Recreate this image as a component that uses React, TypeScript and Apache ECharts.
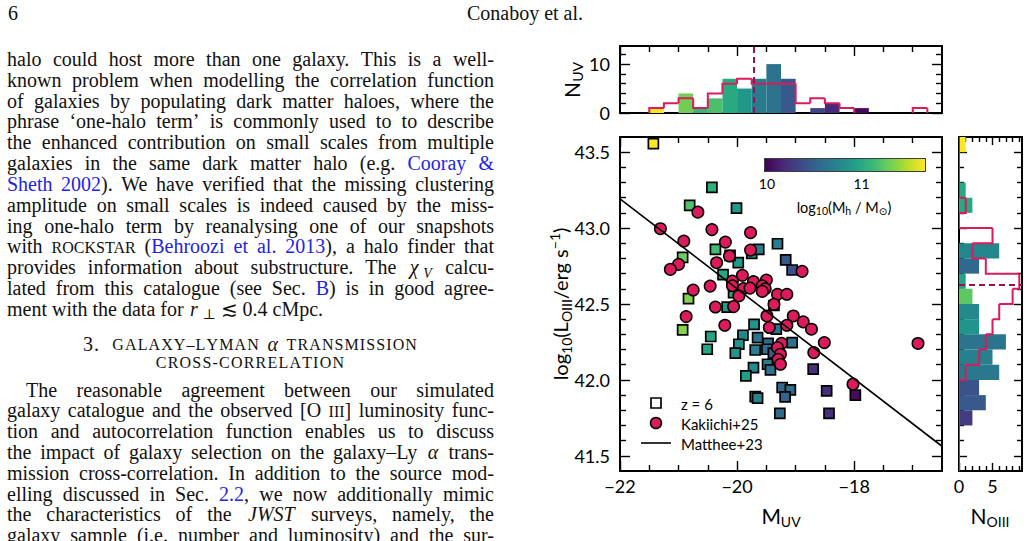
import React, { useEffect, useRef } from "react";
import * as echarts from "echarts";

// ---------------- data ----------------
// simulated z = 6 galaxies (squares): M_UV, log L_OIII, log halo mass
const simMuv = [-21.43, -20.43, -20.81, -20.01, -20.37, -19.75, -19.63, -19.31, -20.93, -19.98, -20.12, -20.24, -20.83, -20.06, -19.17, -19.06, -19.37, -20.17, -19.71, -19.33, -20.45, -19.9, -19.65, -19.97, -19.47, -19.06, -20.51, -20.03, -19.69, -19.49, -19.38, -19.48, -19.43, -19.72, -19.85, -18.7, -17.98, -19.23, -19.09, -19.18, -18.47, -19.69, -19.65, -19.27, -18.43, -20.93];
const simLogL = [43.557, 43.268, 43.149, 43.132, 42.86, 42.834, 42.86, 42.897, 42.807, 42.772, 42.82, 42.693, 42.535, 42.575, 42.79, 42.724, 42.49, 42.48, 42.366, 42.334, 42.286, 42.294, 42.279, 42.235, 42.241, 42.246, 42.202, 42.176, 42.197, 42.202, 42.176, 42.103, 42.066, 42.081, 42.026, 42.071, 41.9, 41.95, 41.934, 41.888, 41.928, 41.89, 41.88, 41.78, 41.779, 42.329];
const simLogMh = [11.68, 11.05, 11.2, 10.9, 11.15, 10.92, 10.7, 10.68, 11.3, 10.9, 10.65, 10.98, 11.35, 11.0, 10.45, 10.4, 10.55, 10.92, 10.85, 10.62, 10.97, 10.78, 10.62, 10.85, 10.55, 10.6, 10.98, 10.85, 10.7, 10.6, 10.45, 10.68, 10.62, 10.78, 10.92, 10.22, 10.03, 10.55, 10.58, 10.52, 10.2, 10.75, 10.75, 10.58, 10.2, 11.35];

// Kakiichi+25 (circles)
const kakMuv = [-20.67, -21.31, -20.43, -20.91, -20.2, -19.77, -19.77, -20.13, -20.35, -21.0, -21.14, -19.91, -20.08, -19.72, -19.5, -20.46, -20.08, -19.89, -19.78, -19.57, -19.52, -19.57, -20.75, -19.97, -19.31, -19.15, -20.37, -20.06, -19.37, -20.87, -19.49, -19.04, -18.87, -18.73, -20.21, -19.45, -19.15, -19.24, -18.51, -16.91, -19.31, -18.69, -19.26, -19.3, -19.26, -18.02, -18.89];
const kakLogL = [43.105, 42.996, 42.99, 42.914, 42.908, 42.97, 42.855, 42.816, 42.772, 42.761, 42.728, 42.689, 42.651, 42.647, 42.658, 42.618, 42.62, 42.601, 42.605, 42.62, 42.6, 42.583, 42.592, 42.553, 42.564, 42.564, 42.48, 42.483, 42.498, 42.417, 42.421, 42.421, 42.382, 42.334, 42.36, 42.345, 42.36, 42.241, 42.246, 42.24, 42.213, 42.18, 42.169, 42.136, 42.103, 41.972, 42.715];

// Matthee+23 relation (end points)
const mattheeMuv = [-22, -16.5];
const mattheeLogL = [43.193, 41.563];

// M_UV histogram
const uvBinEdges = [-22, -21.75, -21.5, -21.25, -21, -20.75, -20.5, -20.25, -20, -19.75, -19.5, -19.25, -19, -18.75, -18.5, -18.25, -18, -17.75, -17.5, -17.25, -17, -16.75, -16.5];
const uvSimCounts = [0, 0, 1, 0, 4, 1, 3, 7, 5, 7, 10, 7, 0, 1, 2, 0, 1, 0, 0, 0, 0, 0];
const uvSimMeanMh = [0, 0, 11.68, 0, 11.3, 11.1, 11.18, 11.0, 10.87, 10.68, 10.62, 10.45, 0, 10.32, 10.18, 0, 10.02, 0, 0, 0, 0, 0];
const uvKakCounts = [0, 0, 1, 2, 3, 1, 4, 6, 7, 6, 6, 6, 2, 3, 2, 1, 0, 0, 0, 0, 1, 0];
const kakMedianMuv = -19.71;

// L_OIII histogram
const oiiiBinEdges = [41.4, 41.5, 41.6, 41.7, 41.8, 41.9, 42.0, 42.1, 42.2, 42.3, 42.4, 42.5, 42.6, 42.7, 42.8, 42.9, 43.0, 43.1, 43.2, 43.3, 43.4, 43.5, 43.6];
const oiiiSimCounts = [0, 0, 0, 2, 4, 3, 6, 5, 7, 3, 3, 2, 1, 3, 6, 0, 0, 2, 1, 0, 0, 1];
const oiiiSimMeanMh = [0, 0, 0, 10.28, 10.45, 10.42, 10.66, 10.72, 10.63, 10.86, 10.78, 11.24, 10.95, 10.55, 10.75, 0, 0, 11.0, 11.0, 0, 0, 11.68];
const oiiiKakCounts = [0, 0, 0, 0, 0, 0, 1, 3, 4, 5, 6, 8, 9, 4, 2, 5, 0, 1, 0, 0, 0, 0];
const kakMedianLogL = 42.627;

// axis ticks
const muvMajor = [-22, -20, -18];
const muvMinor = [-21.5, -21, -20.5, -19.5, -19, -18.5, -17.5, -17];
const lMajor = [41.5, 42, 42.5, 43, 43.5];
const lMinor = [41.6, 41.7, 41.8, 41.9, 42.1, 42.2, 42.3, 42.4, 42.6, 42.7, 42.8, 42.9, 43.1, 43.2, 43.3, 43.4];
const nuvMajor = [0, 10];
const nuvMinor = [2, 4, 6, 8, 12];
const noiiiMajor = [0, 5];
const noiiiMinor = [1, 2, 3, 4, 6, 7, 8, 9];
const cbMajor = [10, 11];
const cbMinor = [10.2, 10.4, 10.6, 10.8, 11.2, 11.4, 11.6];

// ranges
const MUV_MIN = -22, MUV_MAX = -16.5;
const L_MIN = 41.4, L_MAX = 43.6;
const NUV_MAX = 13.7, NOIII_MAX = 9.4;
const CB_MIN = 9.98, CB_MAX = 11.67;

// ---------------- page text ----------------
const para1 = [
  "halo could host more than one galaxy. This is a well-",
  "known problem when modelling the correlation function",
  "of galaxies by populating dark matter haloes, where the",
  "phrase \u2018one-halo term\u2019 is commonly used to to describe",
  "the enhanced contribution on small scales from multiple",
  "galaxies in the same dark matter halo (e.g. \u00abCooray &\u00bb",
  "\u00abSheth 2002\u00bb). We have verified that the missing clustering",
  "amplitude on small scales is indeed caused by the miss-",
  "ing one-halo term by reanalysing one of our snapshots",
  "with \u2045ROCKSTAR\u2046 (\u00abBehroozi et al. 2013\u00bb), a halo finder that",
  "provides information about substructure. The \u2039\u03c7_V_\u203a calcu-",
  "lated from this catalogue (see Sec. \u00abB\u00bb) is in good agree-",
  "ment with the data for \u2039r\u203a_\u22a5_ \u2272 0.4 cMpc.",
];
const para2 = [
  "The reasonable agreement between our simulated",
  "galaxy catalogue and the observed [O \u2045III\u2046] luminosity func-",
  "tion and autocorrelation function enables us to discuss",
  "the impact of galaxy selection on the galaxy\u2013Ly \u2039\u03b1\u203a trans-",
  "mission cross-correlation. In addition to the source mod-",
  "elling discussed in Sec. \u00ab2.2\u00bb, we now additionally mimic",
  "the characteristics of the \u2039JWST\u203a surveys, namely, the",
  "galaxy sample (i.e. number and luminosity) and the sur-",
];

const FAM = 'Lato, "DejaVu Sans", sans-serif';
const SERIF = '"Liberation Serif", "DejaVu Serif", serif';
const CRIMSON = "#dc1a5c";
const DASH = "#9b1050";
const VIR = ["#440154", "#482878", "#3e4989", "#31688e", "#26828e", "#1f9e89", "#35b779", "#6ece58", "#b5de2b", "#fde725"];

function hexToRgb(h: string) {
  return [parseInt(h.slice(1, 3), 16), parseInt(h.slice(3, 5), 16), parseInt(h.slice(5, 7), 16)];
}
function viridis(m: number) {
  let t = (m - CB_MIN) / (CB_MAX - CB_MIN);
  t = Math.max(0, Math.min(1, t));
  const f = t * (VIR.length - 1);
  const i = Math.min(VIR.length - 2, Math.floor(f));
  const u = f - i;
  const a = hexToRgb(VIR[i]), b = hexToRgb(VIR[i + 1]);
  const c = a.map((v, k) => Math.round(v + (b[k] - v) * u));
  return `rgb(${c[0]},${c[1]},${c[2]})`;
}

type Run = { t: string; blue: boolean; it: boolean; sc: boolean; sub: boolean };
function parseLine(s: string): Run[][] {
  const words: Run[][] = [];
  let cur: Run[] = [];
  let st = { blue: false, it: false, sc: false, sub: false };
  let buf = "";
  const flush = () => {
    if (buf) {
      cur.push({ t: buf, ...st });
      buf = "";
    }
  };
  for (const ch of s) {
    if (ch === " ") {
      flush();
      words.push(cur);
      cur = [];
      continue;
    }
    if (ch === "\u00ab") { flush(); st = { ...st, blue: true }; continue; }
    if (ch === "\u00bb") { flush(); st = { ...st, blue: false }; continue; }
    if (ch === "\u2039") { flush(); st = { ...st, it: true }; continue; }
    if (ch === "\u203a") { flush(); st = { ...st, it: false }; continue; }
    if (ch === "\u2045") { flush(); st = { ...st, sc: true }; continue; }
    if (ch === "\u2046") { flush(); st = { ...st, sc: false }; continue; }
    if (ch === "_") { flush(); st = { ...st, sub: !st.sub }; continue; }
    buf += ch;
  }
  flush();
  words.push(cur);
  return words;
}

function buildPageText(): any[] {
  const els: any[] = [];
  const canvas = document.createElement("canvas");
  const ctx = canvas.getContext("2d")!;
  const FS = 20;
  const runInfo = (r: Run, base: number, ls: number) => {
    const size = r.sc ? base * 0.8 : r.sub ? base * 0.7 : base;
    const font = `${r.it ? "italic " : ""}${size}px ${SERIF}`;
    ctx.font = font;
    const chars = Array.from(r.t);
    const cw = chars.map((c) => ctx.measureText(c).width + ls);
    let w = ls > 0 ? cw.reduce((a, b) => a + b, 0) : ctx.measureText(r.t).width;
    const pre = r.sub ? 3 : r.it ? 1.5 : 0; // italic correction / subscript kern
    w += r.it ? 1.5 : 0;
    return { size, font, w: w + pre, pre, chars, cw };
  };
  const place = (line: string, y: number, mode: string, x0: number, x1: number, base = FS, ls = 0) => {
    const words = parseLine(line);
    const infos = words.map((w) => w.map((r) => runInfo(r, base, ls)));
    const widths = infos.map((w) => w.reduce((a, r) => a + r.w, 0));
    const total = widths.reduce((a, b) => a + b, 0);
    ctx.font = `${base}px ${SERIF}`;
    const sp = ctx.measureText(" ").width + ls;
    let gap = sp;
    let x = x0;
    if (mode === "justify" && words.length > 1) gap = (x1 - x0 - total) / (words.length - 1);
    if (mode === "center") x = (x0 + x1) / 2 - (total + sp * (words.length - 1)) / 2;
    words.forEach((w, wi) => {
      w.forEach((r, ri) => {
        const inf = infos[wi][ri];
        const dy = 0.3 * (base - inf.size) + (r.sub ? 4 : 0);
        const style = (t: string) => ({
          text: t,
          font: inf.font,
          fill: r.blue ? "#2323e6" : "#111",
          align: "left",
          verticalAlign: "middle",
        });
        if (ls > 0) {
          let cx = x + inf.pre;
          inf.chars.forEach((c, ci) => {
            els.push({ type: "text", x: cx, y: y + dy, silent: true, style: style(c) });
            cx += inf.cw[ci];
          });
        } else {
          els.push({ type: "text", x: x + inf.pre, y: y + dy, silent: true, style: style(r.t) });
        }
        x += inf.w;
      });
      x += gap;
    });
  };
  // header
  place("6", 12.5, "left", 8, 100);
  place("Conaboy et al.", 12.5, "center", 462, 588);
  para1.forEach((l, i) => {
    const y = 58.8 + 20.85 * i;
    place(l, y, i === para1.length - 1 ? "left" : "justify", 7, 494);
  });
  place("3.  \u2045GALAXY\u2013LYMAN\u2046 \u2039\u03b1\u203a \u2045TRANSMISSION\u2046", 343.5, "center", 7, 494, 20, 1.1);
  place("\u2045CROSS-CORRELATION\u2046", 361.5, "center", 7, 494, 20, 1.2);
  para2.forEach((l, i) => {
    const y = 389.5 + 20.8 * i;
    place(l, y, "justify", i === 0 ? 26 : 7, 494);
  });
  return els;
}

function mkAxis(grid: number, position: string, min: number, max: number, values: number[], opt: any) {
  return {
    type: "value",
    gridIndex: grid,
    position,
    min,
    max,
    silent: true,
    axisLine: { show: !!opt.line, onZero: false, lineStyle: { color: "#000", width: opt.lw || 2 } },
    axisTick: {
      show: values.length > 0,
      inside: true,
      length: opt.len || 10,
      customValues: values,
      lineStyle: { color: "#000", width: 1.4 },
    },
    axisLabel: {
      show: !!opt.labels,
      customValues: values,
      formatter: opt.fmt,
      margin: opt.margin ?? 8,
      color: "#000",
      fontFamily: FAM,
      fontSize: opt.fs || 18,
    },
    splitLine: { show: false },
    minorTick: { show: false },
  };
}

function buildOption() {
  const fmtMinus = (v: number) => (v < 0 ? "\u2212" + Math.abs(v) : String(v));
  const fmt1 = (v: number) => v.toFixed(1);
  const fmtInt = (v: number) => String(v);

  const grids = [
    { left: 620, top: 137, width: 322, height: 334 }, // main
    { left: 620, top: 46, width: 322, height: 67 }, // top hist
    { left: 959, top: 137, width: 63, height: 334 }, // right hist
    { left: 765, top: 159, width: 160, height: 12 }, // colorbar
  ];
  const xAxis: any[] = [];
  const yAxis: any[] = [];
  // main grid 0
  const mainX = xAxis.push(mkAxis(0, "bottom", MUV_MIN, MUV_MAX, muvMajor, { line: true, labels: true, fmt: fmtMinus, margin: 6 })) - 1;
  xAxis.push(mkAxis(0, "bottom", MUV_MIN, MUV_MAX, muvMinor, { len: 6 }));
  xAxis.push(mkAxis(0, "top", MUV_MIN, MUV_MAX, muvMajor, { line: true }));
  xAxis.push(mkAxis(0, "top", MUV_MIN, MUV_MAX, muvMinor, { len: 6 }));
  const mainY = yAxis.push(mkAxis(0, "left", L_MIN, L_MAX, lMajor, { line: true, labels: true, fmt: fmt1, margin: 10 })) - 1;
  yAxis.push(mkAxis(0, "left", L_MIN, L_MAX, lMinor, { len: 6 }));
  yAxis.push(mkAxis(0, "right", L_MIN, L_MAX, lMajor, { line: true }));
  yAxis.push(mkAxis(0, "right", L_MIN, L_MAX, lMinor, { len: 6 }));
  // top hist grid 1
  const topX = xAxis.push(mkAxis(1, "bottom", MUV_MIN, MUV_MAX, [], { line: true })) - 1;
  xAxis.push(mkAxis(1, "top", MUV_MIN, MUV_MAX, muvMajor, { line: true }));
  xAxis.push(mkAxis(1, "top", MUV_MIN, MUV_MAX, muvMinor, { len: 6 }));
  const topY = yAxis.push(mkAxis(1, "left", 0, NUV_MAX, nuvMajor, { line: true, labels: true, fmt: fmtInt, margin: 10 })) - 1;
  yAxis.push(mkAxis(1, "left", 0, NUV_MAX, nuvMinor, { len: 6 }));
  yAxis.push(mkAxis(1, "right", 0, NUV_MAX, nuvMajor, { line: true }));
  yAxis.push(mkAxis(1, "right", 0, NUV_MAX, nuvMinor, { len: 6 }));
  // right hist grid 2
  const sideX = xAxis.push(mkAxis(2, "bottom", 0, NOIII_MAX, noiiiMajor, { line: true, labels: true, fmt: fmtInt, margin: 6, len: 8 })) - 1;
  xAxis.push(mkAxis(2, "bottom", 0, NOIII_MAX, noiiiMinor, { len: 5 }));
  xAxis.push(mkAxis(2, "top", 0, NOIII_MAX, noiiiMajor, { line: true, len: 8 }));
  xAxis.push(mkAxis(2, "top", 0, NOIII_MAX, noiiiMinor, { len: 5 }));
  const sideY = yAxis.push(mkAxis(2, "left", L_MIN, L_MAX, lMajor, { line: true, len: 8 })) - 1;
  yAxis.push(mkAxis(2, "left", L_MIN, L_MAX, lMinor, { len: 5 }));
  yAxis.push(mkAxis(2, "right", L_MIN, L_MAX, lMajor, { line: true, len: 8 }));
  yAxis.push(mkAxis(2, "right", L_MIN, L_MAX, lMinor, { len: 5 }));
  // colorbar grid 3
  const cbX = xAxis.push(mkAxis(3, "bottom", CB_MIN, CB_MAX, cbMajor, { line: true, labels: true, fmt: fmtInt, margin: 5, fs: 14, len: 6, lw: 1.5 })) - 1;
  xAxis.push(mkAxis(3, "bottom", CB_MIN, CB_MAX, cbMinor, { len: 3.5 }));
  xAxis.push(mkAxis(3, "top", CB_MIN, CB_MAX, [], { line: true, lw: 1.5 }));
  const cbY = yAxis.push(mkAxis(3, "left", 0, 1, [], { line: true, lw: 1.5 })) - 1;
  yAxis.push(mkAxis(3, "right", 0, 1, [], { line: true, lw: 1.5 }));

  const barRender = (horizontal: boolean) => (params: any, api: any) => {
    const lo = api.value(0), hi = api.value(1), c = api.value(2), m = api.value(3);
    if (!c) return { type: "group", children: [] };
    const p0 = horizontal ? api.coord([0, lo]) : api.coord([lo, 0]);
    const p1 = horizontal ? api.coord([c, hi]) : api.coord([hi, c]);
    return {
      type: "rect",
      shape: {
        x: Math.min(p0[0], p1[0]),
        y: Math.min(p0[1], p1[1]),
        width: Math.abs(p1[0] - p0[0]),
        height: Math.abs(p1[1] - p0[1]),
      },
      style: { fill: viridis(m) },
    };
  };
  const stepRender = (horizontal: boolean, skipZero: boolean) => (params: any, api: any) => {
    const lo = api.value(0), hi = api.value(1), c = api.value(2), prev = api.value(3);
    if (skipZero && !c && !prev) return { type: "group", children: [] };
    const pts = horizontal
      ? [api.coord([prev, lo]), api.coord([c, lo]), api.coord([c, hi])]
      : [api.coord([lo, prev]), api.coord([lo, c]), api.coord([hi, c])];
    if (skipZero && !c) pts.pop();
    return {
      type: "polyline",
      shape: { points: pts },
      style: { stroke: CRIMSON, lineWidth: 2, fill: "none" },
    };
  };

  const uvBars = uvSimCounts.map((c, i) => [uvBinEdges[i], uvBinEdges[i + 1], c, uvSimMeanMh[i]]);
  const uvSteps = uvKakCounts.map((c, i) => [uvBinEdges[i], uvBinEdges[i + 1], c, i ? uvKakCounts[i - 1] : 0]);
  const oBars = oiiiSimCounts.map((c, i) => [oiiiBinEdges[i], oiiiBinEdges[i + 1], c, oiiiSimMeanMh[i]]);
  const oSteps = oiiiKakCounts.map((c, i) => [oiiiBinEdges[i], oiiiBinEdges[i + 1], c, i ? oiiiKakCounts[i - 1] : 0]);

  const series: any[] = [
    {
      type: "custom",
      xAxisIndex: topX,
      yAxisIndex: topY,
      renderItem: barRender(false),
      data: uvBars,
      encode: { x: [0, 1], y: 2 },
      clip: true,
      z: 2,
    },
    {
      type: "custom",
      xAxisIndex: topX,
      yAxisIndex: topY,
      renderItem: stepRender(false, true),
      data: uvSteps,
      encode: { x: [0, 1], y: 2 },
      clip: true,
      z: 3,
      markLine: {
        silent: true,
        symbol: ["none", "none"],
        label: { show: false },
        lineStyle: { color: DASH, width: 2, type: [6, 4] },
        data: [{ xAxis: kakMedianMuv }],
      },
    },
    {
      type: "custom",
      xAxisIndex: sideX,
      yAxisIndex: sideY,
      renderItem: barRender(true),
      data: oBars,
      encode: { x: 2, y: [0, 1] },
      clip: true,
      z: 2,
    },
    {
      type: "custom",
      xAxisIndex: sideX,
      yAxisIndex: sideY,
      renderItem: stepRender(true, false),
      data: oSteps,
      encode: { x: 2, y: [0, 1] },
      clip: true,
      z: 3,
      markLine: {
        silent: true,
        symbol: ["none", "none"],
        label: { show: false },
        lineStyle: { color: DASH, width: 2, type: [6, 4] },
        data: [{ yAxis: kakMedianLogL }],
      },
    },
    {
      type: "scatter",
      xAxisIndex: mainX,
      yAxisIndex: mainY,
      symbol: "rect",
      symbolSize: 10,
      data: simMuv.map((x, i) => [x, simLogL[i], simLogMh[i]]),
      itemStyle: {
        color: (p: any) => viridis(p.value[2]),
        borderColor: "#000",
        borderWidth: 1.7,
        opacity: 1,
      },
      z: 3,
    },
    {
      type: "scatter",
      xAxisIndex: mainX,
      yAxisIndex: mainY,
      symbol: "circle",
      symbolSize: 11.5,
      data: kakMuv.map((x, i) => [x, kakLogL[i]]),
      itemStyle: { color: CRIMSON, borderColor: "#000", borderWidth: 1.5, opacity: 1 },
      z: 4,
    },
    {
      type: "line",
      xAxisIndex: mainX,
      yAxisIndex: mainY,
      data: mattheeMuv.map((x, i) => [x, mattheeLogL[i]]),
      symbol: "none",
      lineStyle: { color: "#000", width: 1.6 },
      z: 5,
    },
    {
      type: "custom",
      xAxisIndex: cbX,
      yAxisIndex: cbY,
      data: [[CB_MIN, CB_MAX]],
      encode: { x: [0, 1] },
      renderItem: (params: any, api: any) => {
        const p0 = api.coord([api.value(0), 0]);
        const p1 = api.coord([api.value(1), 1]);
        return {
          type: "rect",
          shape: { x: p0[0], y: p1[1], width: p1[0] - p0[0], height: p0[1] - p1[1] },
          style: {
            fill: new echarts.graphic.LinearGradient(
              0, 0, 1, 0,
              VIR.map((c, i) => ({ offset: i / (VIR.length - 1), color: c }))
            ),
          },
        };
      },
      z: 1,
    },
  ];

  const sub = (fs: number, lh: number) => ({ fontSize: fs, fontFamily: FAM, lineHeight: lh, verticalAlign: "bottom", fill: "#000", color: "#000" });
  const sup = (fs: number, lh: number) => ({ fontSize: fs, fontFamily: FAM, lineHeight: lh, verticalAlign: "top", fill: "#000", color: "#000" });
  const mainT = (fs: number, lh: number) => ({ fontSize: fs, fontFamily: FAM, lineHeight: lh, verticalAlign: "middle", fill: "#000", color: "#000" });

  const chartText: any[] = [
    {
      type: "text", x: 781, y: 515, silent: true,
      style: { text: "{m|M}{s|UV}", rich: { m: mainT(21, 26), s: sub(14, 16) }, align: "center", verticalAlign: "middle" },
    },
    {
      type: "text", x: 990, y: 515, silent: true,
      style: { text: "{m|N}{s|OIII}", rich: { m: mainT(21, 26), s: sub(14, 16) }, align: "center", verticalAlign: "middle" },
    },
    {
      type: "text", x: 571, y: 80, rotation: Math.PI / 2, silent: true,
      style: { text: "{m|N}{s|UV}", rich: { m: mainT(21, 26), s: sub(14, 16) }, align: "center", verticalAlign: "middle" },
    },
    {
      type: "text", x: 560, y: 304, rotation: Math.PI / 2, silent: true,
      style: {
        text: "{m|log}{s|10}{m|(L}{s|OIII}{m|/erg s}{p|\u22121}{m|)}",
        rich: { m: mainT(20, 26), s: sub(14, 16), p: sup(14, 12) },
        align: "center", verticalAlign: "middle",
      },
    },
    {
      type: "text", x: 844, y: 207, silent: true,
      style: {
        text: "{m|log}{s|10}{m|(M}{s|h}{m| / M}{s|\u2299}{m|)}",
        rich: { m: mainT(14.5, 18), s: sub(10.5, 12) },
        align: "center", verticalAlign: "middle",
      },
    },
    // legend
    { type: "rect", silent: true, shape: { x: 651, y: 398, width: 10, height: 10 }, style: { fill: "#fff", stroke: "#000", lineWidth: 1.7 } },
    { type: "circle", silent: true, shape: { cx: 656, cy: 423, r: 5.5 }, style: { fill: CRIMSON, stroke: "#000", lineWidth: 1.5 } },
    { type: "line", silent: true, shape: { x1: 641, y1: 443, x2: 671, y2: 443 }, style: { stroke: "#000", lineWidth: 1.6 } },
    { type: "text", x: 681, y: 404, silent: true, style: { text: "z = 6", font: `15px ${FAM}`, fill: "#000", align: "left", verticalAlign: "middle" } },
    { type: "text", x: 681, y: 424, silent: true, style: { text: "Kakiichi+25", font: `15px ${FAM}`, fill: "#000", align: "left", verticalAlign: "middle" } },
    { type: "text", x: 681, y: 444, silent: true, style: { text: "Matthee+23", font: `15px ${FAM}`, fill: "#000", align: "left", verticalAlign: "middle" } },
  ];

  return {
    animation: false,
    backgroundColor: "#fff",
    grid: grids,
    xAxis,
    yAxis,
    series,
    graphic: { elements: [...buildPageText(), ...chartText] },
  };
}

export default function App() {
  const ref = useRef<HTMLDivElement>(null);
  useEffect(() => {
    const chart = echarts.init(ref.current!, null, { renderer: "svg" });
    chart.setOption(buildOption() as any);
    return () => chart.dispose();
  }, []);
  return (
    <div
      ref={ref}
      style={{ position: "fixed", left: 0, top: 0, width: 1030, height: 541, background: "#fff" }}
    />
  );
}
